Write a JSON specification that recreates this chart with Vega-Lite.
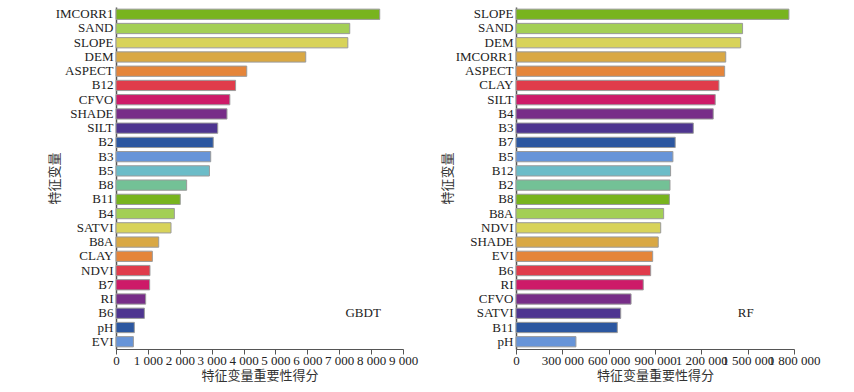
{
  "$schema": "https://vega.github.io/schema/vega-lite/v6.json",
  "padding": {"left": 48, "top": 7, "right": 5, "bottom": 5},
  "background": "white",
  "config": {
    "locale": {"number": {"decimal": ".", "thousands": " ", "grouping": [3], "currency": ["", ""]}},
    "view": {"stroke": null},
    "font": "Liberation Serif",
    "axis": {"labelFont": "Liberation Serif", "labelFontSize": 13, "labelColor": "#222", "titleFont": "Noto Sans CJK SC", "titleFontSize": 13, "titleFontWeight": "normal", "titleColor": "#333", "domainColor": "#555", "tickColor": "#555", "grid": false}
  },
  "datasets": {
    "gbdt": [
      {"feature": "IMCORR1", "value": 8270, "rank": 1},
      {"feature": "SAND", "value": 7330, "rank": 2},
      {"feature": "SLOPE", "value": 7270, "rank": 3},
      {"feature": "DEM", "value": 5950, "rank": 4},
      {"feature": "ASPECT", "value": 4100, "rank": 5},
      {"feature": "B12", "value": 3750, "rank": 6},
      {"feature": "CFVO", "value": 3570, "rank": 7},
      {"feature": "SHADE", "value": 3480, "rank": 8},
      {"feature": "SILT", "value": 3190, "rank": 9},
      {"feature": "B2", "value": 3050, "rank": 10},
      {"feature": "B3", "value": 2970, "rank": 11},
      {"feature": "B5", "value": 2930, "rank": 12},
      {"feature": "B8", "value": 2215, "rank": 13},
      {"feature": "B11", "value": 2015, "rank": 14},
      {"feature": "B4", "value": 1830, "rank": 15},
      {"feature": "SATVI", "value": 1725, "rank": 16},
      {"feature": "B8A", "value": 1340, "rank": 17},
      {"feature": "CLAY", "value": 1140, "rank": 18},
      {"feature": "NDVI", "value": 1065, "rank": 19},
      {"feature": "B7", "value": 1055, "rank": 20},
      {"feature": "RI", "value": 930, "rank": 21},
      {"feature": "B6", "value": 890, "rank": 22},
      {"feature": "pH", "value": 575, "rank": 23},
      {"feature": "EVI", "value": 545, "rank": 24}
    ],
    "rf": [
      {"feature": "SLOPE", "value": 1767000, "rank": 1},
      {"feature": "SAND", "value": 1467000, "rank": 2},
      {"feature": "DEM", "value": 1455000, "rank": 3},
      {"feature": "IMCORR1", "value": 1358000, "rank": 4},
      {"feature": "ASPECT", "value": 1351000, "rank": 5},
      {"feature": "CLAY", "value": 1314000, "rank": 6},
      {"feature": "SILT", "value": 1290000, "rank": 7},
      {"feature": "B4", "value": 1277000, "rank": 8},
      {"feature": "B3", "value": 1148000, "rank": 9},
      {"feature": "B7", "value": 1031000, "rank": 10},
      {"feature": "B5", "value": 1016000, "rank": 11},
      {"feature": "B12", "value": 1001000, "rank": 12},
      {"feature": "B2", "value": 997000, "rank": 13},
      {"feature": "B8", "value": 993000, "rank": 14},
      {"feature": "B8A", "value": 956000, "rank": 15},
      {"feature": "NDVI", "value": 937000, "rank": 16},
      {"feature": "SHADE", "value": 921000, "rank": 17},
      {"feature": "EVI", "value": 885000, "rank": 18},
      {"feature": "B6", "value": 872000, "rank": 19},
      {"feature": "RI", "value": 824000, "rank": 20},
      {"feature": "CFVO", "value": 745000, "rank": 21},
      {"feature": "SATVI", "value": 678000, "rank": 22},
      {"feature": "B11", "value": 656000, "rank": 23},
      {"feature": "pH", "value": 388000, "rank": 24}
    ],
    "labels": [
      {"model": "GBDT", "x": 7750, "feature": "B6"},
      {"model": "RF", "x": 1487000, "feature": "SATVI"}
    ]
  },
  "hconcat": [
    {
      "width": 287,
      "height": 342,
      "encoding": {
        "y": {"field": "feature", "type": "nominal", "sort": ["IMCORR1","SAND","SLOPE","DEM","ASPECT","B12","CFVO","SHADE","SILT","B2","B3","B5","B8","B11","B4","SATVI","B8A","CLAY","NDVI","B7","RI","B6","pH","EVI"], "scale": {"paddingInner": 0.28, "paddingOuter": 0.15}, "axis": {"title": "特征变量", "ticks": false, "labelPadding": 3, "titleX": -55, "domainWidth": 1.5}},
        "x": {"field": "value", "type": "quantitative", "scale": {"domain": [0, 9000], "nice": false}, "axis": {"title": "特征变量重要性得分", "values": [0, 1000, 2000, 3000, 4000, 5000, 6000, 7000, 8000, 9000], "format": ",d", "labelOverlap": false, "labelFlush": false, "tickSize": 5, "labelPadding": 0, "titlePadding": 2}}
      },
      "layer": [
        {
          "data": {"name": "gbdt"},
          "mark": {"type": "bar", "stroke": "#9a9a9a", "strokeWidth": 1},
          "encoding": {
            "color": {"field": "rank", "type": "ordinal", "legend": null, "scale": {"domain": [1,2,3,4,5,6,7,8,9,10,11,12,13,14,15,16,17,18,19,20,21,22,23,24], "range": ["#78b41e","#a3cf55","#d8d35a","#d9a844","#e5853a","#e03c4b","#cd1a68","#772d88","#4e3590","#2c57a0","#6794d8","#6cbcc8","#73c196","#78b41e","#a3cf55","#d8d35a","#d9a844","#e5853a","#e03c4b","#cd1a68","#772d88","#4e3590","#2c57a0","#6794d8"]}}
          }
        },
        {
          "data": {"name": "labels"},
          "transform": [{"filter": "datum.model == 'GBDT'"}, {"calculate": "datum.x", "as": "value"}],
          "mark": {"type": "text", "font": "Liberation Serif", "fontSize": 13, "color": "#222"},
          "encoding": {
            "text": {"field": "model"}
          }
        }
      ]
    },
    {
      "width": 278,
      "height": 342,
      "encoding": {
        "y": {"field": "feature", "type": "nominal", "sort": ["SLOPE","SAND","DEM","IMCORR1","ASPECT","CLAY","SILT","B4","B3","B7","B5","B12","B2","B8","B8A","NDVI","SHADE","EVI","B6","RI","CFVO","SATVI","B11","pH"], "scale": {"paddingInner": 0.28, "paddingOuter": 0.15}, "axis": {"title": "特征变量", "ticks": false, "labelPadding": 3, "titleX": -62, "domainWidth": 1.5}},
        "x": {"field": "value", "type": "quantitative", "scale": {"domain": [0, 1800000], "nice": false}, "axis": {"title": "特征变量重要性得分", "values": [0, 300000, 600000, 900000, 1200000, 1500000, 1800000], "format": ",d", "labelOverlap": false, "labelFlush": false, "tickSize": 5, "labelPadding": 0, "titlePadding": 2}}
      },
      "layer": [
        {
          "data": {"name": "rf"},
          "mark": {"type": "bar", "stroke": "#9a9a9a", "strokeWidth": 1},
          "encoding": {
            "color": {"field": "rank", "type": "ordinal", "legend": null, "scale": {"domain": [1,2,3,4,5,6,7,8,9,10,11,12,13,14,15,16,17,18,19,20,21,22,23,24], "range": ["#78b41e","#a3cf55","#d8d35a","#d9a844","#e5853a","#e03c4b","#cd1a68","#772d88","#4e3590","#2c57a0","#6794d8","#6cbcc8","#73c196","#78b41e","#a3cf55","#d8d35a","#d9a844","#e5853a","#e03c4b","#cd1a68","#772d88","#4e3590","#2c57a0","#6794d8"]}}
          }
        },
        {
          "data": {"name": "labels"},
          "transform": [{"filter": "datum.model == 'RF'"}, {"calculate": "datum.x", "as": "value"}],
          "mark": {"type": "text", "font": "Liberation Serif", "fontSize": 13, "color": "#222"},
          "encoding": {
            "text": {"field": "model"}
          }
        }
      ]
    }
  ],
  "spacing": 23,
  "resolve": {"scale": {"color": "independent"}}
}
